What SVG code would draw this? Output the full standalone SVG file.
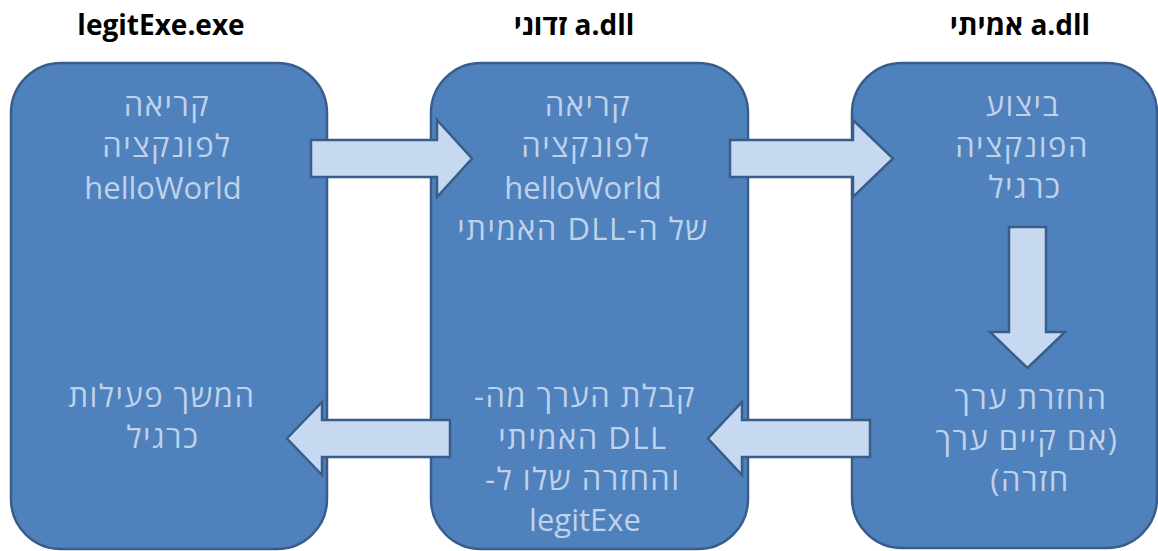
<svg xmlns="http://www.w3.org/2000/svg" width="1158" height="551" viewBox="0 0 1158 551">
  <style>
    .box { fill: #4F81BD; stroke: #385D8A; stroke-width: 2.5; }
    .arrow { fill: #C6D9F1; stroke: #385D8A; stroke-width: 2.5; stroke-linejoin: miter; }
    .hdr { font-family: "Open Sans", "DejaVu Sans", sans-serif; font-weight: bold; font-size: 28px; fill: #000000; text-anchor: middle; }
    .lbl { font-family: "Open Sans", "DejaVu Sans", sans-serif; font-size: 31px; fill: #BFD2EA; text-anchor: middle; }
    .he { letter-spacing: 1.5px; }
  </style>

  <rect width="1158" height="551" fill="#FFFFFF"/>

  <!-- column headers -->
  <g id="headers">
    <text class="hdr" x="161" y="35">legitExe.exe</text>
    <text class="hdr" x="574" y="35" direction="rtl">a.dll זדוני</text>
    <text class="hdr" x="1020" y="35" direction="rtl">a.dll אמיתי</text>
  </g>

  <!-- the executable -->
  <g id="node-exe">
    <rect class="box" x="11" y="63" width="316" height="486" rx="50" ry="50"/>
    <text class="lbl he" x="167" y="116" direction="rtl">קריאה</text>
    <text class="lbl he" x="167" y="157" direction="rtl">לפונקציה</text>
    <text class="lbl" x="163" y="199">helloWorld</text>
    <text class="lbl he" x="162" y="407" direction="rtl">המשך פעילות</text>
    <text class="lbl he" x="163" y="448" direction="rtl">כרגיל</text>
  </g>

  <!-- the malicious DLL -->
  <g id="node-fake-dll">
    <rect class="box" x="431" y="63" width="317" height="486" rx="50" ry="50"/>
    <text class="lbl he" x="588" y="116" direction="rtl">קריאה</text>
    <text class="lbl he" x="586" y="157" direction="rtl">לפונקציה</text>
    <text class="lbl" x="583" y="199">helloWorld</text>
    <text class="lbl he" x="583" y="240" direction="rtl">של ה-DLL האמיתי</text>
    <text class="lbl he" x="585" y="407" direction="rtl">קבלת הערך מה-</text>
    <text class="lbl he" x="583" y="449" direction="rtl">DLL האמיתי</text>
    <text class="lbl he" x="583" y="490" direction="rtl">והחזרה שלו ל-</text>
    <text class="lbl" x="585" y="531">legitExe</text>
  </g>

  <!-- the real DLL -->
  <g id="node-real-dll">
    <rect class="box" x="852" y="63" width="305" height="485" rx="50" ry="50"/>
    <text class="lbl he" x="1023" y="116" direction="rtl">ביצוע</text>
    <text class="lbl he" x="1022" y="157" direction="rtl">הפונקציה</text>
    <text class="lbl he" x="1025" y="198" direction="rtl">כרגיל</text>
    <text class="lbl he" x="1031" y="409" direction="rtl">החזרת ערך</text>
    <text class="lbl he" x="1027" y="450" direction="rtl">(אם קיים ערך</text>
    <text class="lbl he" x="1030" y="491" direction="rtl">חזרה)</text>
  </g>

  <!-- block arrows between the stages -->
  <g id="connectors">
    <polygon class="arrow" points="311,140 437,140 437,120 472,158.5 437,197 437,177 311,177"/>
    <polygon class="arrow" points="730,140 853,140 853,120 893,158.5 853,197 853,177 730,177"/>
    <polygon class="arrow" points="1009,227 1046,227 1046,332 1065,332 1027.5,368 990,332 1009,332"/>
    <polygon class="arrow" points="870,420 742,420 742,402 708,438.5 742,475 742,457 870,457"/>
    <polygon class="arrow" points="450,420 322,420 322,402 287,438.5 322,475 322,457 450,457"/>
  </g>
</svg>
